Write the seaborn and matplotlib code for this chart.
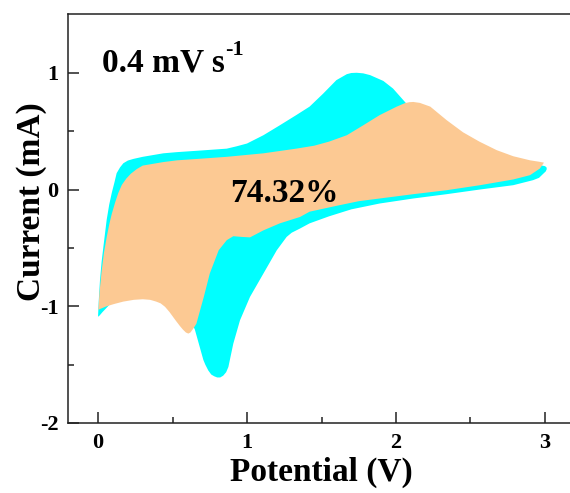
import matplotlib
matplotlib.use("Agg")
import matplotlib.pyplot as plt
import seaborn as sns

# Total CV current at 0.4 mV/s: anodic sweep (0 -> 3 V) and cathodic sweep (3 -> 0 V)
total_anodic_v = [0.0, 0.005, 0.013, 0.024, 0.036, 0.058, 0.075, 0.092, 0.11, 0.125,
                  0.148, 0.17, 0.20, 0.237, 0.3, 0.438, 0.528, 0.7, 0.864, 0.93,
                  1.0, 1.11, 1.22, 1.33, 1.42, 1.51, 1.60, 1.67, 1.70, 1.736,
                  1.78, 1.826, 1.915, 1.98, 2.06, 2.15, 2.3, 2.5, 2.7, 2.9,
                  2.98, 3.0]
total_anodic_i = [-1.09, -0.95, -0.78, -0.62, -0.49, -0.26, -0.13, -0.03, 0.06, 0.14,
                  0.19, 0.225, 0.248, 0.262, 0.28, 0.31, 0.32, 0.335, 0.35, 0.37,
                  0.394, 0.465, 0.55, 0.637, 0.71, 0.82, 0.937, 0.988, 0.998, 1.0,
                  0.995, 0.98, 0.93, 0.865, 0.75, 0.62, 0.45, 0.33, 0.26, 0.22,
                  0.205, 0.2]
total_cathodic_v = [3.01, 3.012, 3.005, 2.99, 2.96, 2.92, 2.787, 2.564, 2.34, 2.116,
                    1.89, 1.7, 1.55, 1.42, 1.356, 1.30, 1.266, 1.2, 1.11, 1.02,
                    0.953, 0.908, 0.875, 0.86, 0.84, 0.82, 0.80, 0.78, 0.76, 0.74,
                    0.72, 0.707, 0.65, 0.62, 0.5, 0.4, 0.25, 0.12, 0.06, 0.03,
                    0.01]
total_cathodic_i = [0.19, 0.175, 0.155, 0.137, 0.10, 0.08, 0.037, 0.0, -0.04, -0.077,
                    -0.12, -0.17, -0.23, -0.29, -0.334, -0.37, -0.406, -0.52, -0.72, -0.92,
                    -1.12, -1.32, -1.52, -1.565, -1.595, -1.61, -1.61, -1.60, -1.585, -1.55,
                    -1.50, -1.46, -1.2, -1.12, -0.98, -0.92, -0.9, -0.93, -1.01, -1.05,
                    -1.08]

# Capacitive contribution (74.32 %)
cap_anodic_v = [0.002, 0.01, 0.025, 0.04, 0.058, 0.075, 0.092, 0.115, 0.136, 0.16,
                0.19, 0.22, 0.26, 0.30, 0.438, 0.53, 0.7, 0.864, 1.11, 1.33,
                1.45, 1.55, 1.67, 1.78, 1.89, 2.005, 2.06, 2.09, 2.116, 2.16,
                2.23, 2.34, 2.45, 2.56, 2.676, 2.787, 2.9, 2.96, 2.993]
cap_anodic_i = [-1.03, -0.88, -0.69, -0.54, -0.41, -0.30, -0.21, -0.11, -0.03, 0.04,
                0.094, 0.135, 0.175, 0.205, 0.235, 0.25, 0.265, 0.28, 0.31, 0.35,
                0.375, 0.41, 0.465, 0.55, 0.637, 0.71, 0.74, 0.748, 0.75, 0.742,
                0.71, 0.594, 0.49, 0.41, 0.337, 0.285, 0.25, 0.238, 0.23]
cap_cathodic_v = [2.966, 2.9, 2.787, 2.564, 2.34, 2.116, 1.89, 1.75, 1.6, 1.42,
                  1.356, 1.22, 1.11, 1.02, 0.964, 0.908, 0.864, 0.81, 0.75, 0.71,
                  0.66, 0.64, 0.62, 0.606, 0.59, 0.57, 0.55, 0.52, 0.48, 0.45,
                  0.42, 0.39, 0.35, 0.30, 0.24, 0.17, 0.11, 0.058, 0.02]
cap_cathodic_i = [0.18, 0.123, 0.086, 0.037, -0.006, -0.04, -0.077, -0.10, -0.14, -0.19,
                  -0.235, -0.29, -0.35, -0.41, -0.406, -0.40, -0.434, -0.52, -0.72, -0.92,
                  -1.15, -1.19, -1.225, -1.234, -1.225, -1.20, -1.17, -1.12, -1.05, -1.005,
                  -0.975, -0.96, -0.945, -0.94, -0.945, -0.96, -0.98, -1.0, -1.02]

x_ticks = [0, 1, 2, 3]
y_ticks = [-2, -1, 0, 1]
scan_rate_label = "0.4 mV s"
capacitive_label = "74.32%"

sns.set_theme(style="ticks", rc={"text.color": "black", "axes.labelcolor": "black",
                                 "xtick.color": "black", "ytick.color": "black"})
plt.rcParams["font.family"] = ["Liberation Serif", "DejaVu Serif"]
plt.rcParams["font.weight"] = "bold"
plt.rcParams["axes.unicode_minus"] = False

fig = plt.figure(figsize=(5.7, 4.93), dpi=100)
ax = fig.add_axes([0.1197, 0.142, 0.8887, 0.8288])

ax.fill(total_anodic_v + total_cathodic_v, total_anodic_i + total_cathodic_i,
        color="#00FFFF", lw=0, zorder=1)
ax.fill(cap_anodic_v + cap_cathodic_v, cap_anodic_i + cap_cathodic_i,
        color="#FCC993", lw=0, zorder=2)

ax.set_xlim(-0.2, 3.2)
ax.set_ylim(-2, 1.5)
ax.set_xticks(x_ticks)
ax.set_yticks(y_ticks)
ax.set_xticks([0.5, 1.5, 2.5], minor=True)
ax.set_yticks([-1.5, -0.5, 0.5], minor=True)
ax.set_xticklabels([str(t) for t in x_ticks])
ax.set_yticklabels([str(t) for t in y_ticks])

for s in ax.spines.values():
    s.set_linewidth(1.1)
    s.set_color("#222222")
ax.tick_params(which="major", direction="in", length=8, width=1.1, color="#222222",
               labelsize=16, pad=7, labelcolor="black")
ax.tick_params(which="minor", direction="in", length=4, width=1.1, color="#222222")
ax.tick_params(axis="x", top=False, which="both")
ax.tick_params(axis="y", right=False, which="both")
for lab in ax.get_xticklabels() + ax.get_yticklabels():
    lab.set_fontweight("bold")

ax.set_xlabel("Potential (V)", fontsize=24, fontweight="bold", labelpad=3, color="black")
ax.set_ylabel("Current (mA)", fontsize=24, fontweight="bold", color="black")
ax.yaxis.set_label_coords(-0.042, 0.543)

t = ax.text(0.025, 1.008, scan_rate_label, fontsize=24, fontweight="bold",
            ha="left", va="baseline", zorder=5, color="black")
ax.annotate("-1", xy=(1.0, 0.62), xycoords=t, fontsize=16, fontweight="bold",
            ha="left", va="bottom", color="black")
ax.text(0.886, -0.106, capacitive_label, fontsize=24, fontweight="bold",
        ha="left", va="baseline", zorder=5, color="black")

fig.savefig("out.png", dpi=100)
